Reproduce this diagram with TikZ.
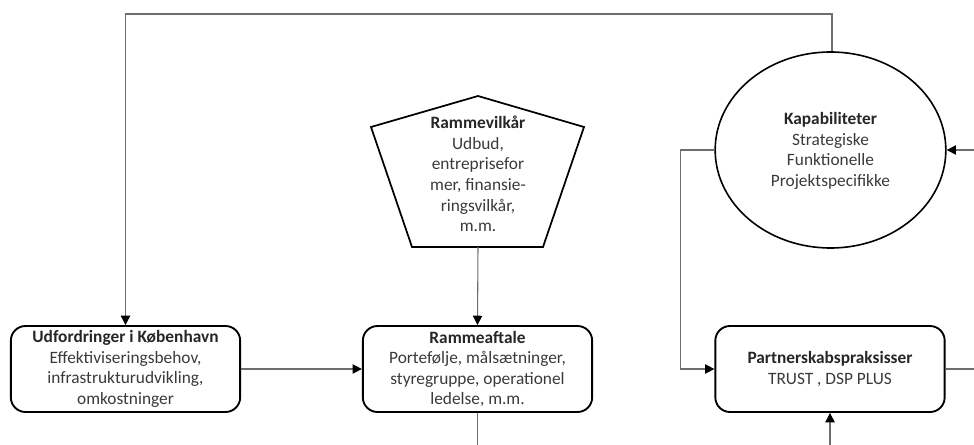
\documentclass[tikz,border=0pt]{standalone}
\usepackage{fontspec}
\setmainfont{Carlito}
\usetikzlibrary{arrows.meta,shapes.geometric}
\definecolor{linegray}{HTML}{6E6E6E}
\definecolor{txt}{HTML}{3A3A3A}
\begin{document}
\begin{tikzpicture}[x=0.75pt,y=-0.75pt,
  every node/.style={font=\fontsize{13}{15.4}\selectfont, text=txt, align=center},
  box/.style={draw=black, line width=1.4pt, rounded corners=11pt,
    minimum width=172pt, minimum height=64.5pt, inner sep=2pt},
  conn/.style={draw=linegray, line width=0.8pt},
  arr/.style={conn, -{Triangle[length=7pt,width=7pt,color=black]}},
  hd/.style={font=\bfseries}
]
\useasboundingbox (0,0) rectangle (974,445);

% nodes
\node[box] (udf) at (125.5,369) {\textbf{\color{black!85}Udfordringer i København}\\Effektiviseringsbehov,\\infrastrukturudvikling,\\omkostninger};
\node[box] (ram) at (477.5,369) {\textbf{\color{black!85}Rammeaftale}\\Portefølje, målsætninger,\\styregruppe, operationel\\ledelse, m.m.};
\node[box] (par) at (830,369) {\textbf{\color{black!85}Partnerskabspraksisser}\\TRUST , DSP PLUS};
\node[ellipse, draw=black, line width=1.2pt, minimum width=173pt, minimum height=147pt, inner sep=0pt] (kap) at (830.5,150) {};
\node (kapt) at (830.5,151) {\textbf{\color{black!85}Kapabiliteter}\\Strategiske\\Funktionelle\\Projektspecifikke};

% pentagon
\coordinate (p1) at (478,96);
\coordinate (p2) at (584,127);
\coordinate (p3) at (543,247);
\coordinate (p4) at (412,247);
\coordinate (p5) at (371,127);
\draw[black, line width=1.3pt, line join=miter] (p1) -- (p2) -- (p3) -- (p4) -- (p5) -- cycle;
\node (rv) at (478,174) {\textbf{\color{black!85}Rammevilkår}\\Udbud,\\entreprisefor\\mer, finansie-\\ringsvilkår,\\m.m.};
\coordinate (pb) at (478,247);

% free ends
\coordinate (t1) at (125.5,14);
\coordinate (t2) at (832,14);
\coordinate (rb) at (477.5,445);
\coordinate (re) at (974,150);
\coordinate (pr) at (974,369);
\coordinate (pbot) at (830,445);

% connectors
\draw[arr] (kap.north -| t2) -- (t2) -- (t1) -- (udf.north);
\draw[arr] (udf.east) -- (ram.west);
\draw[arr] (pb) -- (ram.north);
\draw[conn] (ram.south) -- (rb);
\draw[arr] (kap.west) -- ++(-34,0) |- (par.west);
\draw[arr] (re) -- (kap.east);
\draw[conn] (par.east) -- (pr);
\draw[arr] (pbot) -- (par.south);
\end{tikzpicture}
\end{document}
